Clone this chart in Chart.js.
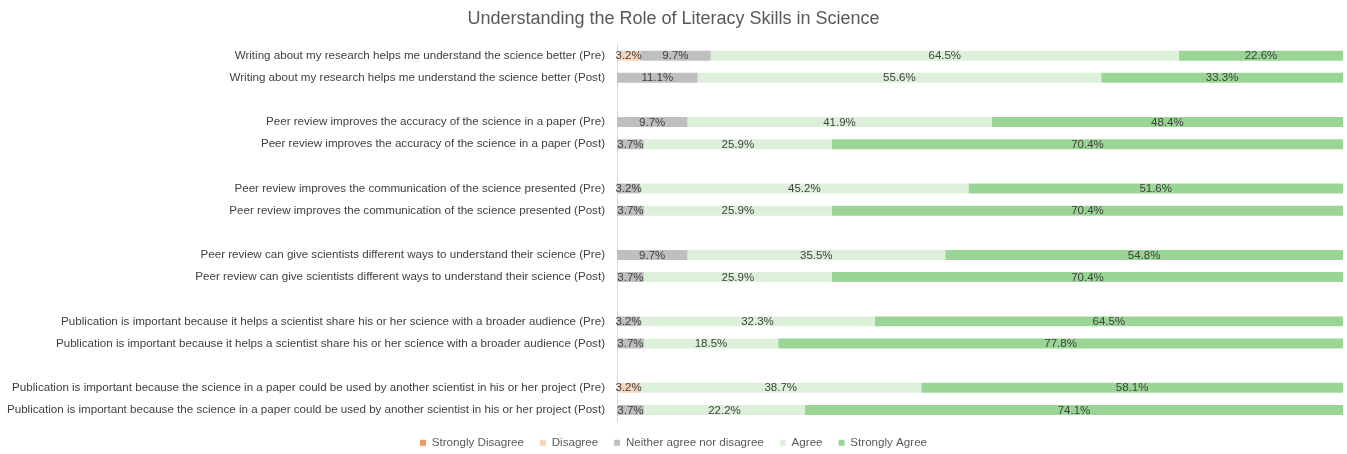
<!DOCTYPE html>
<html>
<head>
<meta charset="utf-8">
<script src="https://cdn.jsdelivr.net/npm/chart.js@4/dist/chart.umd.min.js"></script>
<style>
  html, body { margin: 0; padding: 0; background: #fff; }
  #wrap { width: 1347px; height: 454px; }
</style>
</head>
<body>
<div id="wrap"><canvas id="c" width="1347" height="454"></canvas></div>
<script>
const categories = [
  "Writing about my research helps me understand the science better (Pre)",
  "Writing about my research helps me understand the science better (Post)",
  "",
  "Peer review improves the accuracy of the science in a paper (Pre)",
  "Peer review improves the accuracy of the science in a paper (Post)",
  "",
  "Peer review improves the communication of the science presented (Pre)",
  "Peer review improves the communication of the science presented (Post)",
  "",
  "Peer review can give scientists different ways to understand their science (Pre)",
  "Peer review can give scientists different ways to understand their science (Post)",
  "",
  "Publication is important because it helps a scientist share his or her science with a broader audience (Pre)",
  "Publication is important because it helps a scientist share his or her science with a broader audience (Post)",
  "",
  "Publication is important because the science in a paper could be used by another scientist in his or her project (Pre)",
  "Publication is important because the science in a paper could be used by another scientist in his or her project (Post)"
];
const seriesNames = ["Strongly Disagree", "Disagree", "Neither agree nor disagree", "Agree", "Strongly Agree"];
const stronglyDisagree = [0, 0, null, 0, 0, null, 0, 0, null, 0, 0, null, 0, 0, null, 0, 0];
const disagree         = [3.2, 0, null, 0, 0, null, 0, 0, null, 0, 0, null, 0, 0, null, 3.2, 0];
const neither          = [9.7, 11.1, null, 9.7, 3.7, null, 3.2, 3.7, null, 9.7, 3.7, null, 3.2, 3.7, null, 0, 3.7];
const agree            = [64.5, 55.6, null, 41.9, 25.9, null, 45.2, 25.9, null, 35.5, 25.9, null, 32.3, 18.5, null, 38.7, 22.2];
const stronglyAgree    = [22.6, 33.3, null, 48.4, 70.4, null, 51.6, 70.4, null, 54.8, 70.4, null, 64.5, 77.8, null, 58.1, 74.1];
const colors = ["#EC9A5E", "#F8D7BD", "#BFBFBF", "#DDF1DA", "#9BD596"];

const seriesData = [stronglyDisagree, disagree, neither, agree, stronglyAgree];
const FONT = '"Liberation Sans", Arial, sans-serif';

const labelPlugin = {
  id: 'segLabels',
  afterDatasetsDraw(chart) {
    const ctx = chart.ctx;
    ctx.save();
    ctx.font = '11.5px ' + FONT;
    ctx.fillStyle = '#404040';
    ctx.textAlign = 'center';
    ctx.textBaseline = 'middle';
    chart.data.datasets.forEach((ds, di) => {
      const meta = chart.getDatasetMeta(di);
      meta.data.forEach((el, i) => {
        const v = ds.data[i];
        if (v === null || v === 0) return;
        const p = el.getCenterPoint();
        ctx.fillText(v.toFixed(1) + '%', p.x, p.y + 0.5);
      });
    });
    ctx.restore();
  }
};

new Chart(document.getElementById('c'), {
  type: 'bar',
  data: {
    labels: categories,
    datasets: seriesNames.map((n, i) => ({
      label: n,
      data: seriesData[i],
      backgroundColor: colors[i],
      borderWidth: 0,
      barPercentage: 0.9,
      categoryPercentage: 0.5
    }))
  },
  options: {
    indexAxis: 'y',
    responsive: false,
    animation: false,
    layout: { padding: { left: 4, right: 4, top: 0, bottom: 0 } },
    plugins: {
      title: {
        display: true,
        text: 'Understanding the Role of Literacy Skills in Science',
        color: '#595959',
        font: { family: FONT, size: 18, weight: 'normal' },
        padding: { top: 8, bottom: 15 }
      },
      legend: {
        position: 'bottom',
        maxHeight: 33,
        labels: {
          color: '#595959',
          font: { family: FONT, size: 11.6 },
          boxWidth: 6,
          boxHeight: 6,
          padding: 16
        }
      },
      tooltip: { enabled: false }
    },
    scales: {
      x: {
        stacked: true,
        display: false,
        min: 0,
        max: 100
      },
      y: {
        stacked: true,
        grid: { display: false },
        border: { display: true, color: '#D9D9D9', width: 1 },
        ticks: {
          autoSkip: false,
          color: '#404040',
          padding: 4,
          font: { family: FONT, size: 11.6 }
        },
        afterFit(scale) { scale.width = 613; }
      }
    }
  },
  plugins: [labelPlugin]
});
</script>
</body>
</html>
